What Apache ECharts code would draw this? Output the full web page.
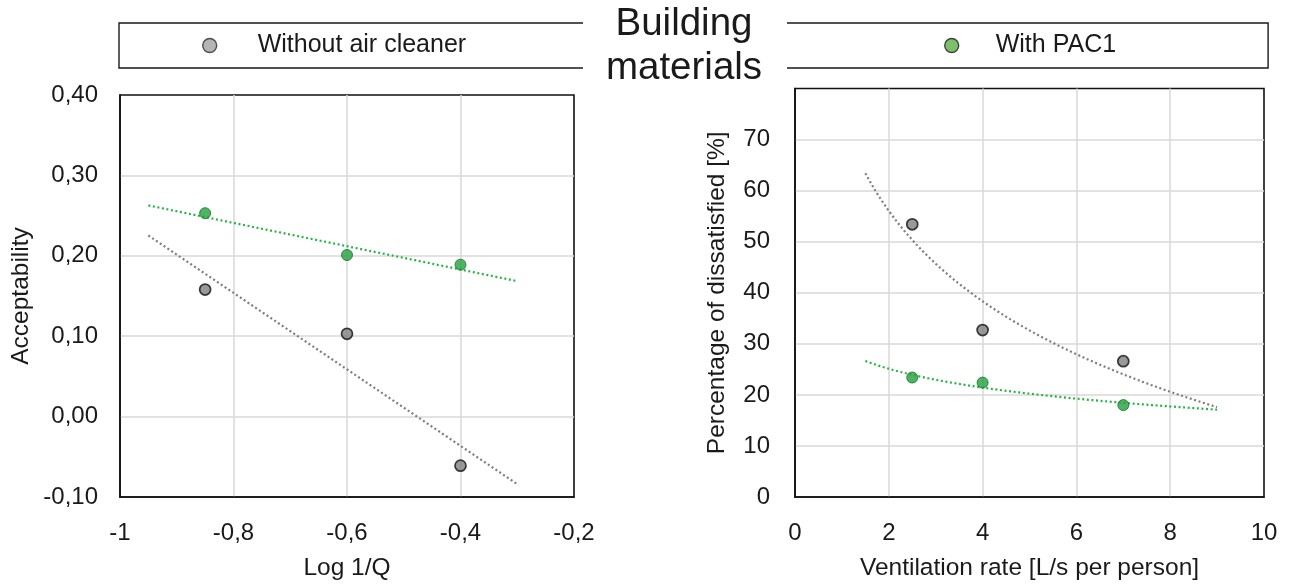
<!DOCTYPE html>
<html>
<head>
<meta charset="utf-8">
<script src="https://cdn.jsdelivr.net/npm/echarts@6/dist/echarts.min.js"></script>
<style>
  html, body { margin: 0; padding: 0; background: #fff; }
  #chart { width: 1289px; height: 586px; }
</style>
</head>
<body>
<div id="chart"></div>
<script>
// Acceptability vs log(1/Q)
const logInvQ = [-0.85, -0.6, -0.4];
const acceptWithout = [0.158, 0.103, -0.061];
const acceptPac1 = [0.253, 0.201, 0.189];
const logTrendRange = [-0.95, -0.3];

// Percentage dissatisfied vs ventilation rate
const ventRate = [2.5, 4, 7];
const pdWithout = [53.4, 32.7, 26.6];
const pdPac1 = [23.4, 22.4, 18.0];
const ventTrendRange = [1.5, 9];

const seriesNames = ['Without air cleaner', 'With PAC1'];
const titleText = 'Building\nmaterials';

const FONT = '"Liberation Sans", Arial, sans-serif';
const TEXT = '#1a1a1a';
const GRID = '#d9d9d9';

// least-squares fit of y = a + b * f(x)
function fit(xs, ys, f) {
  const u = xs.map(f);
  const n = u.length;
  const mu = u.reduce((s, v) => s + v, 0) / n;
  const my = ys.reduce((s, v) => s + v, 0) / n;
  let sxy = 0, sxx = 0;
  for (let i = 0; i < n; i++) {
    sxy += (u[i] - mu) * (ys[i] - my);
    sxx += (u[i] - mu) * (u[i] - mu);
  }
  const b = sxy / sxx;
  const a = my - b * mu;
  return x => a + b * f(x);
}
function trend(xs, ys, range, f, steps) {
  const g = fit(xs, ys, f);
  const out = [];
  for (let i = 0; i <= steps; i++) {
    const x = range[0] + (range[1] - range[0]) * i / steps;
    out.push([x, g(x)]);
  }
  return out;
}
const lin = x => x;
const ln = x => Math.log(x);
const pairs = (xs, ys) => xs.map((x, i) => [x, ys[i]]);

const grayPoint = { color: '#7f7f7f', borderColor: '#111', borderWidth: 1.7 };
const greenPoint = { color: '#22a03c', borderColor: '#16702a', borderWidth: 1 };
const grayTrend = { color: '#7d7d7d', width: 2.2, type: [2, 2.6] };
const greenTrend = { color: '#26b446', width: 2.2, type: [2, 2.6] };

const axisName = { fontSize: 24.5, color: TEXT, fontFamily: FONT };
const axisLabel = { fontSize: 24, color: TEXT, fontFamily: FONT };
const splitLine = { show: true, showMinLine: false, showMaxLine: false, lineStyle: { color: GRID, width: 1.5 } };
const frameLine = { show: true, onZero: false, lineStyle: { color: '#111', width: 1.6 } };

const comma = (v, d) => v.toFixed(d).replace('.', ',');

function legendBox(name, icon, left, padding, textGap) {
  return {
    data: [{ name: name, itemStyle: icon }],
    left: left, top: 23,
    orient: 'horizontal',
    icon: 'circle',
    itemWidth: 14, itemHeight: 14,
    padding: padding,
    borderColor: '#1a1a1a', borderWidth: 1.4,
    selectedMode: false,
    textStyle: { fontSize: 25, color: TEXT, fontFamily: FONT, padding: [0, 0, 0, textGap] }
  };
}

const option = {
  animation: false,
  backgroundColor: '#fff',
  legend: [
    legendBox(seriesNames[0], { color: '#a3a3a3', borderColor: '#2a2a2a', borderWidth: 1.4 }, 119, [10, 160, 10, 83], 36),
    legendBox(seriesNames[1], { color: '#5cb044', borderColor: '#1e1e1e', borderWidth: 1.4 }, 740, [10, 152, 10, 204], 32)
  ],
  graphic: [
    // white panel behind the centred heading, closing off the two legend frames
    { type: 'rect', z: 100, shape: { x: 583, y: 0, width: 204, height: 86 }, style: { fill: '#fff' } },
    {
      type: 'text', z: 101, x: 684, y: 2,
      style: {
        text: titleText, fill: TEXT, font: '38.5px ' + FONT,
        align: 'center', verticalAlign: 'top', lineHeight: 44
      }
    }
  ],
  grid: [
    { left: 120, top: 95, width: 454, height: 412, show: true, borderColor: '#111', borderWidth: 1.6 },
    { left: 795, top: 88.5, width: 469, height: 418.5, show: true, borderColor: '#111', borderWidth: 1.6 }
  ],
  xAxis: [
    {
      gridIndex: 0, type: 'value', min: -1, max: -0.2, interval: 0.2,
      name: 'Log 1/Q', nameLocation: 'middle', nameGap: 59, nameTextStyle: axisName,
      axisLine: frameLine, axisTick: { show: false },
      axisLabel: Object.assign({ margin: 24, formatter: v => comma(v, 1).replace(/^(-?\d),0$/, '$1') }, axisLabel),
      splitLine: splitLine
    },
    {
      gridIndex: 1, type: 'value', min: 0, max: 10, interval: 2,
      name: 'Ventilation rate [L/s per person]', nameLocation: 'middle', nameGap: 59, nameTextStyle: axisName,
      axisLine: frameLine, axisTick: { show: false },
      axisLabel: Object.assign({ margin: 24 }, axisLabel),
      splitLine: splitLine
    }
  ],
  yAxis: [
    {
      gridIndex: 0, type: 'value', min: -0.1, max: 0.4, interval: 0.1,
      name: 'Acceptability', nameLocation: 'middle', nameGap: 86, nameTextStyle: axisName,
      axisLine: frameLine, axisTick: { show: false },
      axisLabel: Object.assign({ margin: 22, formatter: v => comma(v, 2) }, axisLabel),
      splitLine: splitLine
    },
    {
      gridIndex: 1, type: 'value', min: 0, max: 80, interval: 10,
      name: 'Percentage of dissatisfied [%]', nameLocation: 'middle', nameGap: 65, nameTextStyle: axisName,
      axisLine: frameLine, axisTick: { show: false },
      axisLabel: Object.assign({ margin: 25, showMaxLabel: false }, axisLabel),
      splitLine: splitLine
    }
  ],
  series: [
    {
      name: 'trend-accept-without', type: 'line', xAxisIndex: 0, yAxisIndex: 0,
      data: trend(logInvQ, acceptWithout, logTrendRange, lin, 1),
      showSymbol: false, lineStyle: grayTrend, z: 2, silent: true
    },
    {
      name: 'trend-accept-pac1', type: 'line', xAxisIndex: 0, yAxisIndex: 0,
      data: trend(logInvQ, acceptPac1, logTrendRange, lin, 1),
      showSymbol: false, lineStyle: greenTrend, z: 2, silent: true
    },
    {
      name: 'trend-pd-without', type: 'line', xAxisIndex: 1, yAxisIndex: 1,
      data: trend(ventRate, pdWithout, ventTrendRange, ln, 80),
      showSymbol: false, lineStyle: grayTrend, z: 2, silent: true
    },
    {
      name: 'trend-pd-pac1', type: 'line', xAxisIndex: 1, yAxisIndex: 1,
      data: trend(ventRate, pdPac1, ventTrendRange, ln, 80),
      showSymbol: false, lineStyle: greenTrend, z: 2, silent: true
    },
    {
      name: seriesNames[0], type: 'scatter', xAxisIndex: 0, yAxisIndex: 0,
      data: pairs(logInvQ, acceptWithout), symbolSize: 11, itemStyle: grayPoint, z: 3
    },
    {
      name: seriesNames[1], type: 'scatter', xAxisIndex: 0, yAxisIndex: 0,
      data: pairs(logInvQ, acceptPac1), symbolSize: 11, itemStyle: greenPoint, z: 3
    },
    {
      name: seriesNames[0], type: 'scatter', xAxisIndex: 1, yAxisIndex: 1,
      data: pairs(ventRate, pdWithout), symbolSize: 11, itemStyle: grayPoint, z: 3
    },
    {
      name: seriesNames[1], type: 'scatter', xAxisIndex: 1, yAxisIndex: 1,
      data: pairs(ventRate, pdPac1), symbolSize: 11, itemStyle: greenPoint, z: 3
    }
  ]
};

const chart = echarts.init(document.getElementById('chart'), null, { renderer: 'canvas' });
chart.setOption(option);
</script>
</body>
</html>
